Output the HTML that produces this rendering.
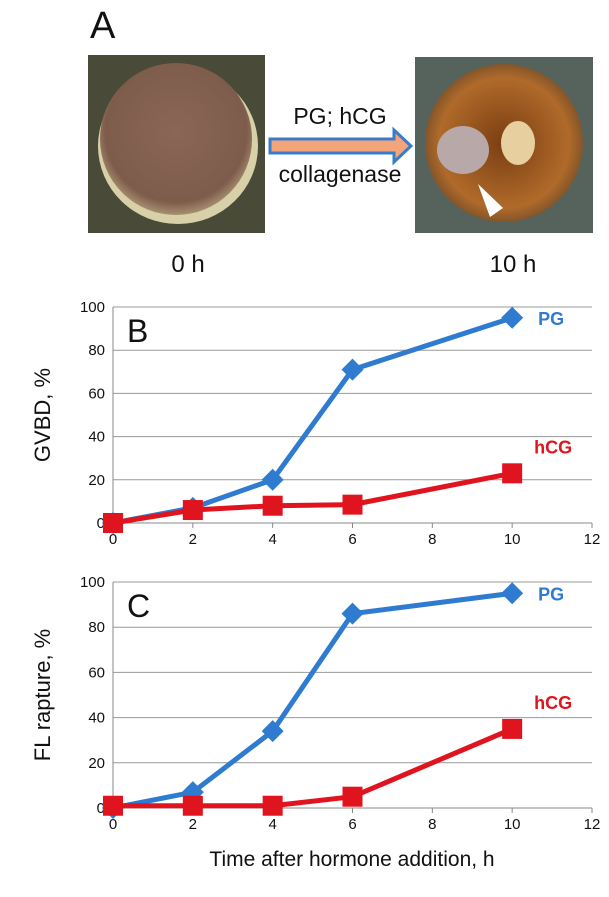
<!DOCTYPE html>
<html><head><meta charset="utf-8"><style>
body{margin:0;background:#fff;width:609px;height:892px;overflow:hidden;font-family:"Liberation Sans",sans-serif}
</style></head><body>
<svg id="fig" width="609" height="892" viewBox="0 0 609 892" xmlns="http://www.w3.org/2000/svg">
<defs>
<radialGradient id="egg1" cx="50%" cy="45%" r="55%"><stop offset="0" stop-color="#8a6656"/><stop offset="0.85" stop-color="#7e5c4c"/><stop offset="1" stop-color="#a89070"/></radialGradient>
<radialGradient id="egg2" cx="50%" cy="50%" r="55%"><stop offset="0" stop-color="#7a3e12"/><stop offset="0.75" stop-color="#b06a2a"/><stop offset="1" stop-color="#6b4a2a"/></radialGradient>
</defs>
<text x="90" y="38" font-size="38" fill="#111">A</text>
<g>
<rect x="88" y="55" width="177" height="178" fill="#4a4a38"/>
<ellipse cx="178" cy="146" rx="80" ry="78" fill="#d8d0a8"/>
<ellipse cx="176" cy="139" rx="76" ry="76" fill="url(#egg1)"/>
</g>
<g>
<rect x="415" y="57" width="178" height="176" fill="#56625c"/>
<circle cx="504" cy="143" r="79" fill="url(#egg2)"/>
<ellipse cx="518" cy="143" rx="17" ry="22" fill="#e8cfa0"/>
<ellipse cx="463" cy="150" rx="26" ry="24" fill="#b8a8a8"/>
<polygon points="478,184 503,208 490,217" fill="#fff"/>
</g>
<g>
<polygon points="233,139 392,139 392,129 411,146 392,163 392,153 233,153" transform="translate(37,0)" fill="none"/>
<polygon points="270,139 394,139 394,130 411,146 394,162 394,153 270,153" fill="#f4a47a" stroke="#3a7cc8" stroke-width="3"/>
</g>
<text x="340" y="124" font-size="23" text-anchor="middle" fill="#111">PG; hCG</text>
<text x="340" y="182" font-size="23" text-anchor="middle" fill="#111">collagenase</text>
<text x="188" y="272" font-size="24" text-anchor="middle" fill="#111">0 h</text>
<text x="513" y="272" font-size="24" text-anchor="middle" fill="#111">10 h</text>
<g id="chartB"></g>
<g id="chartC"></g>
<text x="352" y="866" font-size="21" text-anchor="middle" fill="#111">Time after hormone addition, h</text>
</svg>
<script>
const timesH = [0, 2, 4, 6, 10];
const xTicks = [0, 2, 4, 6, 8, 10, 12];
const yTicks = [0, 20, 40, 60, 80, 100];
const gvbdPG = [0, 7, 20, 71, 95];
const gvbdHCG = [0, 6, 8, 8.5, 23];
const flPG = [0, 7, 34, 86, 95];
const flHCG = [1, 1, 1, 5, 35];
const NS = "http://www.w3.org/2000/svg";
function mk(parent, tag, attrs){const e=document.createElementNS(NS,tag);for(const k in attrs)e.setAttribute(k,attrs[k]);parent.appendChild(e);return e;}
function drawChart(gid, top, bottom, letter, ytitle, pg, hcg){
  const g=document.getElementById(gid);
  
  
  const x0=113,x1=592;
  const xs=v=>x0+(x1-x0)*v/12;
  const ys=v=>bottom-(bottom-top)*v/100;
  yTicks.forEach(t=>{
    const l=mk(g,'line',{x1:x0,x2:x1,y1:ys(t),y2:ys(t),stroke:t===0?'#888':'#999','stroke-width':1});
    
    
    const tx=mk(g,'text',{x:x0-8,y:ys(t)+5,'font-size':15,'text-anchor':'end',fill:'#111'});
    tx.textContent=t;
    
    
  });
  const ax=mk(g,'line',{x1:x0,x2:x0,y1:top,y2:bottom,stroke:'#888'});
  
  
  xTicks.forEach(t=>{
    const tk=mk(g,'line',{x1:xs(t),x2:xs(t),y1:bottom,y2:bottom+5,stroke:'#888'});
    
    
    const tx=mk(g,'text',{x:xs(t),y:bottom+21,'font-size':15,'text-anchor':'middle',fill:'#111'});
    tx.textContent=t;
    
    
  });
  const yt=mk(g,'text',{x:0,y:0,'font-size':22,'text-anchor':'middle',fill:'#111',transform:`translate(50,${(top+bottom)/2}) rotate(-90)`});
  yt.textContent=ytitle;
  
  
  const pl=mk(g,'text',{x:127,y:top+35,'font-size':32,fill:'#111'});
  pl.textContent=letter;
  
  
  const pgLine=mk(g,'polyline',{points:timesH.map((t,i)=>xs(t)+','+ys(pg[i])).join(' '),fill:'none',stroke:'#2f7bd0','stroke-width':5,'stroke-linejoin':'round'});
  
  
  timesH.forEach((t,i)=>{
    const cx=xs(t),cy=ys(pg[i]);
    const d=mk(g,'polygon',{points:`${cx},${cy-11} ${cx+11},${cy} ${cx},${cy+11} ${cx-11},${cy}`,fill:'#2f7bd0'});
    
    
  });
  const hLine=mk(g,'polyline',{points:timesH.map((t,i)=>xs(t)+','+ys(hcg[i])).join(' '),fill:'none',stroke:'#e0141e','stroke-width':5,'stroke-linejoin':'round'});
  
  
  timesH.forEach((t,i)=>{
    const r=mk(g,'rect',{x:xs(t)-10,y:ys(hcg[i])-10,width:20,height:20,fill:'#e0141e'});
    
    
  });
  const n=timesH.length-1;
  const lp=mk(g,'text',{x:xs(timesH[n])+26,y:ys(pg[n])+7,'font-size':18,'font-weight':'bold',fill:'#2f7bd0'});
  lp.textContent='PG';
  
  
  const lh=mk(g,'text',{x:xs(timesH[n])+22,y:ys(hcg[n])-20,'font-size':18,'font-weight':'bold',fill:'#e0141e'});
  lh.textContent='hCG';
  
  
}
drawChart('chartB',307,523,'B','GVBD, %',gvbdPG,gvbdHCG);
drawChart('chartC',582,808,'C','FL rapture, %',flPG,flHCG);
</script>
</body></html>
